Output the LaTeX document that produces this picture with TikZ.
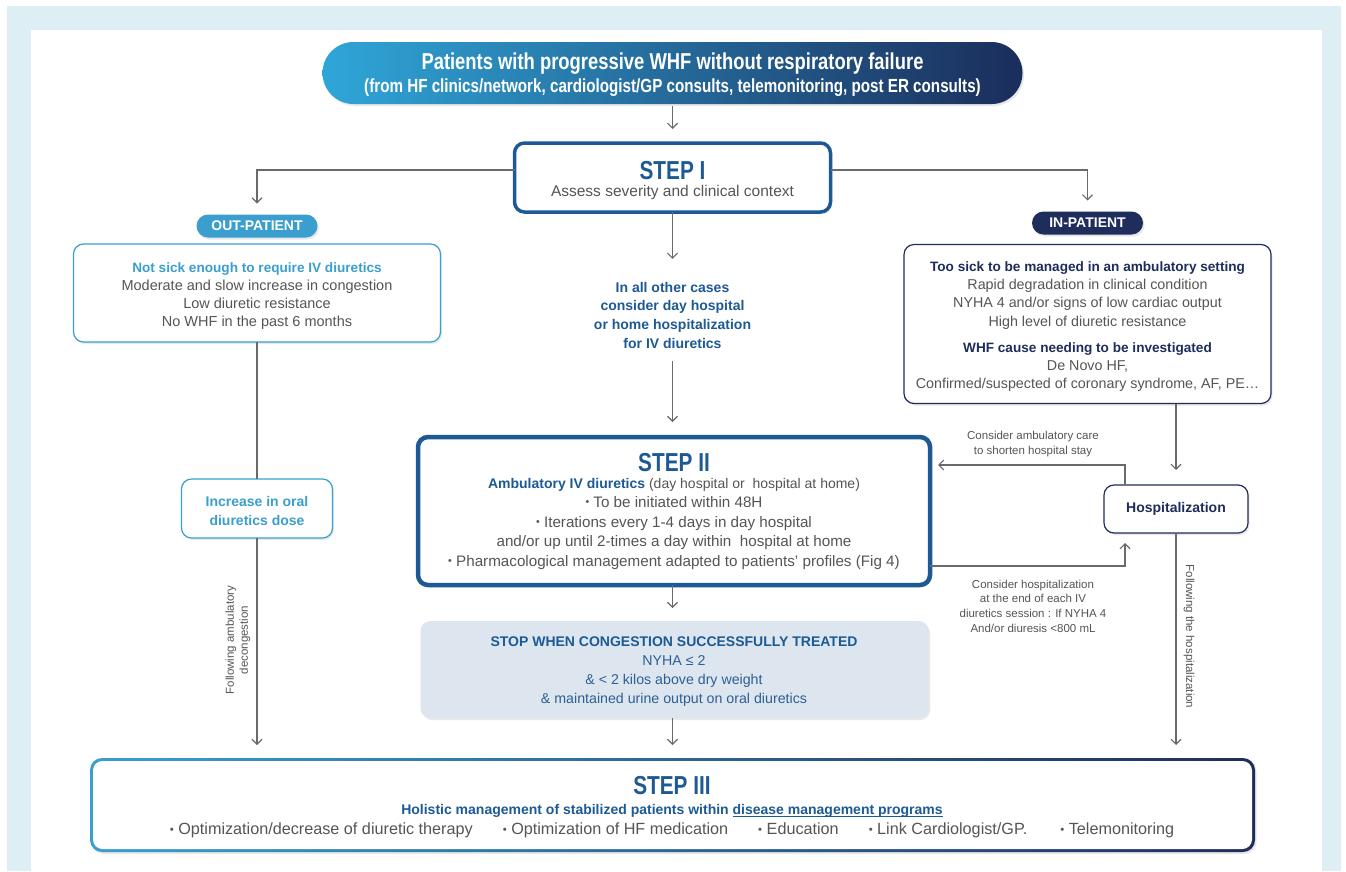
\documentclass[tikz,border=0pt]{standalone}
\usepackage{fontspec}
\setmainfont{Liberation Sans}
\newfontfamily\condf[FakeStretch=0.8]{Liberation Sans}
\usetikzlibrary{arrows.meta,shadows}
\definecolor{framec}{HTML}{DDEEF4}
\definecolor{lblue}{HTML}{3A9FCE}
\definecolor{navy}{HTML}{1E2D5C}
\definecolor{stepblue}{HTML}{1D5A95}
\definecolor{txtgray}{HTML}{555555}
\definecolor{linegray}{HTML}{6A6A6A}
\definecolor{stopfill}{HTML}{DDE6EF}
\definecolor{stoptxt}{HTML}{2D5F95}
\definecolor{bannerl}{HTML}{2FA6D8}
\definecolor{bannerr}{HTML}{1B2D5B}
\newcommand\fs[2]{\fontsize{#1}{#2}\selectfont}
\newcommand\bul{\raisebox{0.1em}{\scalebox{0.7}{\textbullet}}\ }
\newcommand\myul[1]{\setbox0\hbox{#1}\rlap{\rule[-1.6pt]{\wd0}{0.7pt}}\box0}
\begin{document}
\begin{tikzpicture}[x=1pt,y=-1pt,
  every node/.style={inner sep=0pt,outer sep=0pt},
  shad/.style={drop shadow={shadow xshift=1.5pt,shadow yshift=-2pt,opacity=0.18}},
  bx/.style={rounded corners=10pt,fill=white,shad},
  lbox/.style={bx,draw=lblue,line width=1.2pt},
  nbox/.style={bx,draw=navy,line width=1.2pt},
  stepbox/.style={bx,draw=stepblue,line width=3.5pt},
  pill/.style={rounded corners=11.5pt,shad,text=white,font=\bfseries\fs{14}{14}},
  txt/.style={align=center,text=txtgray},
  small/.style={txt,font=\fs{11.5}{15}},
  conn/.style={draw=linegray,line width=1.1pt},
  arr/.style={conn,-{Straight Barb[length=5pt,width=10pt]}}]
\useasboundingbox (0,0) rectangle (1346,871);
\fill[framec] (7,6) rectangle (1341,871);
\fill[white] (31,30) rectangle (1322,871);

% banner
\node[rounded corners=31pt,minimum width=700pt,minimum height=62pt,left color=bannerl,right color=bannerr,shad] (banner) at (672.5,73) {};
\node[align=center,text=white,font=\fs{19}{23}] (bannert) at (672.5,75.1)
  {{\condf\bfseries\fs{23}{23}Patients with progressive WHF without respiratory failure}\\
   {\condf\bfseries (from HF clinics/network, cardiologist/GP consults, telemonitoring, post ER consults)}};

% step I
\node[stepbox,minimum width=316pt,minimum height=69pt] (step1) at (672.5,177.5) {};
\node[txt,font=\fs{15.5}{17}] (step1t) at (672.5,180.3)
  {{\condf\bfseries\fs{26}{26}\color{stepblue}STEP I}\\Assess severity and clinical context};

% pills
\node[pill,fill=lblue,minimum width=121pt,minimum height=23pt] (outp) at (257,226) {OUT-PATIENT};
\node[pill,fill=navy,minimum width=111pt,minimum height=23pt] (inp) at (1087.5,223) {IN-PATIENT};

% left box
\node[lbox,minimum width=367pt,minimum height=98pt] (left) at (257,293) {};
\node[txt,font=\fs{14.5}{18}] (leftt) at (257,296.5)
  {{\bfseries\fs{13.6}{18}\color{lblue}Not sick enough to require IV diuretics}\\
   Moderate and slow increase in congestion\\Low diuretic resistance\\No WHF in the past 6 months};

% right box
\node[nbox,minimum width=367pt,minimum height=159pt] (right) at (1087.5,324) {};
\node[txt,font=\fs{14.3}{18.4}] (rightt) at (1087.5,326.5)
  {{\bfseries\fs{13.6}{18}\color{navy}Too sick to be managed in an ambulatory setting}\\
   Rapid degradation in clinical condition\\NYHA 4 and/or signs of low cardiac output\\
   High level of diuretic resistance\\[7.5pt]
   {\bfseries\fs{13.6}{18}\color{navy}WHF cause needing to be investigated}\\
   De Novo HF,\\Confirmed/suspected of coronary syndrome, AF, PE\dots};

% middle text
\node[align=center,text=stepblue,font=\bfseries\fs{14}{18.8}] (midt) at (672.5,315.2)
  {In all other cases\\consider day hospital\\or home hospitalization\\for IV diuretics};

% step II
\node[stepbox,line width=4.5pt,minimum width=512pt,minimum height=148pt] (step2) at (674,511) {};
\node[txt,font=\fs{15.2}{19.5}] (step2t) at (674,511)
  {{\condf\bfseries\fs{26}{26}\color{stepblue}STEP II}\\[-2.5pt]
   {\fs{14}{14}{\bfseries\color{stepblue}Ambulatory IV diuretics} (day hospital or\ \ hospital at home)}\\
   \bul To be initiated within 48H\\
   \bul Iterations every 1-4 days in day hospital\\
   and/or up until 2-times a day within\ \ hospital at home\\
   \bul Pharmacological management adapted to patients’ profiles (Fig 4)};

% stop box
\node[bx,fill=stopfill,minimum width=508pt,minimum height=97pt] (stop) at (674.5,669.5) {};
\node[align=center,text=stoptxt,font=\fs{14.2}{19}] (stopt) at (674,672)
  {{\bfseries\fs{14}{19}\color{stepblue}STOP WHEN CONGESTION SUCCESSFULLY TREATED}\\
   NYHA ≤ 2\\\& < 2 kilos above dry weight\\\& maintained urine output on oral diuretics};

% increase box
\node[lbox,minimum width=151pt,minimum height=59pt] (incr) at (257,508.5) {};
\node[align=center,text=lblue,font=\bfseries\fs{14}{19}] (incrt) at (257,510.5)
  {Increase in oral\\diuretics dose};

% hospitalization
\node[nbox,minimum width=144pt,minimum height=48pt,text=navy,font=\bfseries\fs{14}{14}] (hosp) at (1176,509) {Hospitalization};

% step III
\node[rounded corners=12pt,left color=lblue,right color=navy,shad,minimum width=1165pt,minimum height=94pt] (s3) at (672.5,805) {};
\node[fill=white,rounded corners=9.5pt,minimum width=1159pt,minimum height=88pt] (s3in) at (s3) {};
\node[txt,font=\fs{16.2}{20}] (s3t) at (672,807)
  {{\condf\bfseries\fs{26}{26}\color{stepblue}STEP III}\\[0.5pt]
   {\bfseries\fs{14}{14}\color{stepblue}Holistic management of stabilized patients within \myul{disease management programs}}\\
   \bul Optimization/decrease of diuretic therapy\hspace{30pt}\bul Optimization of HF medication\hspace{30pt}\bul Education\hspace{30pt}\bul Link Cardiologist/GP.\hspace{33pt}\bul Telemonitoring};

% labels
\node[small] (lblamb) at (1033,444.5) {Consider ambulatory care\\to shorten hospital stay};
\node[small,font=\fs{11.5}{14.7}] (lblhosp) at (1033,606)
  {Consider hospitalization\\at the end of each IV\\diuretics session : If NYHA 4\\And/or diuresis <800 mL};
\node[small,font=\fs{11.5}{14},rotate=90] (follL) at (238,640) {Following ambulatory\\decongestion};
\node[small,rotate=-90] (follR) at (1189,636.5) {Following the hospitalization};

% connectors
\draw[arr,shorten <=2pt,shorten >=14pt] (banner.south) -- (step1.north);
\draw[arr,shorten >=11pt] ([yshift=7.5pt]step1.west) -| (outp.north);
\draw[arr,shorten >=11pt] ([yshift=7.5pt]step1.east) -| (inp.north);
\draw[arr,shorten >=23pt] (step1.south) -- (midt.north);
\draw[arr,shorten <=12pt,shorten >=15pt] (midt.south) -- (midt.south |- step2.north);
\draw[arr,shorten >=13pt] (step1.south |- step2.south) -- (step1.south |- stop.north);
\draw[arr,shorten >=13pt] (step1.south |- stop.south) -- (s3.north);
\draw[conn] (left.south) -- (incr.north);
\draw[arr,shorten >=13pt] (incr.south) -- (incr.south |- s3.north);
\draw[arr,shorten >=15pt] (right.south -| hosp.north) -- (hosp.north);
\draw[arr,shorten >=13pt] (hosp.south) -- (hosp.south |- s3.north);
\draw[arr,shorten >=8pt] ([xshift=-51pt]hosp.north) |- ([yshift=46pt]step2.east);
\draw[arr,shorten >=10pt] ([yshift=-55pt]step2.east) -| ([xshift=-51pt]hosp.south);
\end{tikzpicture}
\end{document}
